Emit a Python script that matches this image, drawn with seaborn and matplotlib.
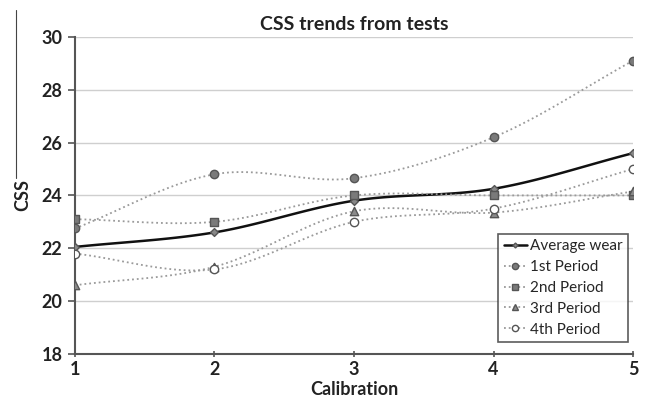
import numpy as np
import pandas as pd
import matplotlib
matplotlib.use("Agg")
import matplotlib.pyplot as plt
from matplotlib.lines import Line2D
import seaborn as sns

# data
calibration = [1, 2, 3, 4, 5]
average_wear = [22.05, 22.6, 23.8, 24.25, 25.6]
period_1 = [22.75, 24.8, 24.65, 26.2, 29.1]
period_2 = [23.1, 23.0, 24.0, 24.0, 24.0]
period_3 = [20.6, 21.3, 23.4, 23.35, 24.15]
period_4 = [21.8, 21.2, 23.0, 23.5, 25.0]
names = ["Average wear", "1st Period", "2nd Period", "3rd Period", "4th Period"]


def smooth(x, y, n=30):
    # catmull-rom curve through the points, like excel's "smoothed line"
    x = np.asarray(x, float)
    y = np.asarray(y, float)
    px = np.concatenate([[2 * x[0] - x[1]], x, [2 * x[-1] - x[-2]]])
    py = np.concatenate([[2 * y[0] - y[1]], y, [2 * y[-1] - y[-2]]])
    xs, ys = [], []
    t = np.linspace(0, 1, n)
    for i in range(1, len(px) - 2):
        for p, out in ((px, xs), (py, ys)):
            p0, p1, p2, p3 = p[i - 1], p[i], p[i + 1], p[i + 2]
            out.append(0.5 * ((2 * p1) + (-p0 + p2) * t
                              + (2 * p0 - 5 * p1 + 4 * p2 - p3) * t ** 2
                              + (-p0 + 3 * p1 - 3 * p2 + p3) * t ** 3))
    return np.concatenate(xs), np.concatenate(ys)


sns.set_theme(style="white")
plt.rcParams["font.family"] = ["Lato", "DejaVu Sans"]

fig = plt.figure(figsize=(6.46, 4.05), dpi=100)
ax = fig.add_axes([0.116, 0.126, 0.864, 0.783])

series = [average_wear, period_1, period_2, period_3, period_4]
styles = [
    dict(color="#111111", ls="-", lw=1.8, marker="D", ms=4, mfc="#888888", mec="#555555"),
    dict(color="#9a9a9a", ls=":", lw=1.3, marker="o", ms=6, mfc="#7a7a7a", mec="#555555"),
    dict(color="#9a9a9a", ls=":", lw=1.3, marker="s", ms=6, mfc="#7a7a7a", mec="#555555"),
    dict(color="#9a9a9a", ls=":", lw=1.3, marker="^", ms=6, mfc="#8a8a8a", mec="#555555"),
    dict(color="#9a9a9a", ls=":", lw=1.3, marker="o", ms=6, mfc="white", mec="#555555"),
]

handles = []
for name, vals, st in zip(names, series, styles):
    sx, sy = smooth(calibration, vals)
    ax.plot(sx, sy, color=st["color"], ls=st["ls"], lw=st["lw"], zorder=2)
    df = pd.DataFrame({"Calibration": calibration, "CSS": vals})
    sns.scatterplot(data=df, x="Calibration", y="CSS", ax=ax, marker=st["marker"],
                    s=st["ms"] ** 2, color=st["mfc"], edgecolor=st["mec"],
                    linewidth=1, zorder=3)
    handles.append(Line2D([], [], color=st["color"], ls=st["ls"], lw=st["lw"],
                          marker=st["marker"], ms=st["ms"] - 1.5, mfc=st["mfc"],
                          mec=st["mec"], label=name))

ax.set_xlim(1, 5)
ax.set_ylim(18, 30)
ax.set_xticks(calibration)
ax.set_yticks(range(18, 31, 2))
ax.yaxis.grid(True, color="#cfcfcf", lw=1)
ax.set_axisbelow(True)

for side in ["top", "right"]:
    ax.spines[side].set_visible(False)
for side in ["left", "bottom"]:
    ax.spines[side].set_color("#555555")
    ax.spines[side].set_linewidth(1.5)

ax.tick_params(axis="y", length=5, width=1.2, color="#555555", pad=4)
ax.tick_params(axis="x", length=4, width=1.2, color="#555555", direction="inout", pad=3)
ax.tick_params(axis="both", labelsize=13, labelcolor="#222222", bottom=True, left=True)
for lab in ax.get_xticklabels() + ax.get_yticklabels():
    lab.set_fontweight("bold")

ax.set_xlabel("Calibration", fontsize=13, fontweight="bold", color="#222222", labelpad=2)
ax.set_ylabel("CSS", fontsize=13, fontweight="bold", color="#222222", labelpad=7)
ax.set_title("CSS trends from tests", fontsize=14, fontweight="bold", color="#222222", pad=5)

leg = ax.legend(handles=handles, loc="lower right", bbox_to_anchor=(0.997, 0.028),
                fontsize=11, frameon=True, fancybox=False, handlelength=1.5,
                handletextpad=0.25, borderpad=0.35, labelspacing=0.45,
                borderaxespad=0.2)
leg.get_frame().set_edgecolor("#333333")
leg.get_frame().set_linewidth(1.2)

# thin stray line at the top-left of the original figure
fig.add_artist(Line2D([16 / 646, 16 / 646], [1 - 10 / 405, 1 - 178 / 405],
                      color="#444444", lw=0.8))

fig.savefig("out.png", dpi=100)
